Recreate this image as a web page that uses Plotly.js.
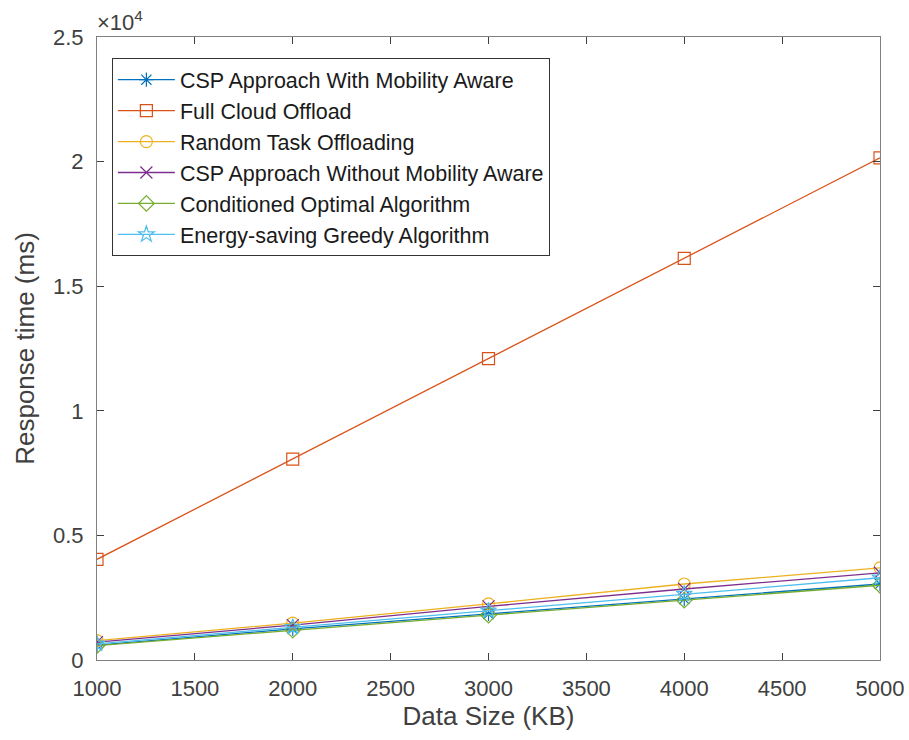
<!DOCTYPE html>
<html>
<head>
<meta charset="utf-8">
<script src="https://cdn.plot.ly/plotly-3.0.1.min.js"></script>
<style>html,body{margin:0;padding:0;background:#fff;}#chart{width:909px;height:740px;}</style>
</head>
<body>
<div id="chart"></div>
<script>
const dataSize = [1000, 2000, 3000, 4000, 5000];
const seriesNames = [
  "CSP Approach With Mobility Aware",
  "Full Cloud Offload",
  "Random Task Offloading",
  "CSP Approach Without Mobility Aware",
  "Conditioned Optimal Algorithm",
  "Energy-saving Greedy Algorithm"
];
const cspWithMobility = [600, 1250, 1850, 2450, 3050];
const fullCloud = [4040, 8060, 12090, 16120, 20150];
const randomTask = [780, 1480, 2250, 3050, 3700];
const cspWithoutMobility = [720, 1400, 2150, 2850, 3500];
const conditionedOptimal = [580, 1200, 1800, 2400, 3000];
const energyGreedy = [650, 1320, 1980, 2650, 3300];
const yTickVals = [0, 5000, 10000, 15000, 20000, 25000];
const yTickText = ["0", "0.5", "1", "1.5", "2", "2.5"];
const xTickVals = [1000, 1500, 2000, 2500, 3000, 3500, 4000, 4500, 5000];

const allSeries = [cspWithMobility, fullCloud, randomTask, cspWithoutMobility, conditionedOptimal, energyGreedy];
const colors = ["#0072BD", "#D95319", "#EDB120", "#7E2F8E", "#77AC30", "#4DBEEE"];
const symbols = ["asterisk-open", "square-open", "circle-open", "x-thin-open", "diamond-open", "star-open"];

const traces = allSeries.map((ys, i) => ({
  x: dataSize, y: ys, name: seriesNames[i], type: "scatter", mode: "lines+markers",
  legendgroup: "g" + i,
  line: {color: colors[i], width: 1.3},
  marker: {symbol: symbols[i], size: 12, color: colors[i], line: {color: colors[i], width: 1.2}}
}));

const font = "Liberation Sans, Arial, Helvetica, sans-serif";
const txt = "#404040";
const layout = {
  width: 909, height: 740,
  margin: {l: 97, r: 29, t: 37, b: 80},
  paper_bgcolor: "#fff", plot_bgcolor: "#fff",
  font: {family: font, size: 22, color: txt},
  showlegend: true,
  legend: {
    x: 0.019, y: 0.966, xanchor: "left", yanchor: "top",
    bordercolor: "#333333", borderwidth: 1, bgcolor: "#fff",
    font: {family: font, size: 21.5, color: "#1a1a1a"},
    traceorder: "grouped", tracegroupgap: 0, itemwidth: 57
  },
  xaxis: {
    range: [1000, 5000], tickvals: xTickVals, ticks: "inside", ticklen: 7,
    tickcolor: "#404040", showline: true, linecolor: "#808080", linewidth: 1,
    mirror: "allticks", showgrid: false, zeroline: false,
    tickfont: {size: 22, color: txt}, ticklabelstandoff: 9,
    title: {text: "Data Size (KB)", font: {size: 26, color: txt}, standoff: 6}
  },
  yaxis: {
    range: [0, 25000], tickvals: yTickVals, ticktext: yTickText, ticks: "inside", ticklen: 7,
    tickcolor: "#404040", showline: true, linecolor: "#808080", linewidth: 1,
    mirror: "allticks", showgrid: false, zeroline: false,
    tickfont: {size: 22, color: txt}, ticklabelstandoff: 8,
    title: {text: "Response time (ms)", font: {size: 26, color: txt}, standoff: 10}
  },
  annotations: [{
    xref: "paper", yref: "paper", x: -0.003, y: 1.0, xanchor: "left", yanchor: "bottom",
    text: "×10<sup>4</sup>", showarrow: false, font: {family: font, size: 22, color: txt}
  }]
};

Plotly.newPlot("chart", traces, layout, {displayModeBar: false, staticPlot: true});
</script>
</body>
</html>
